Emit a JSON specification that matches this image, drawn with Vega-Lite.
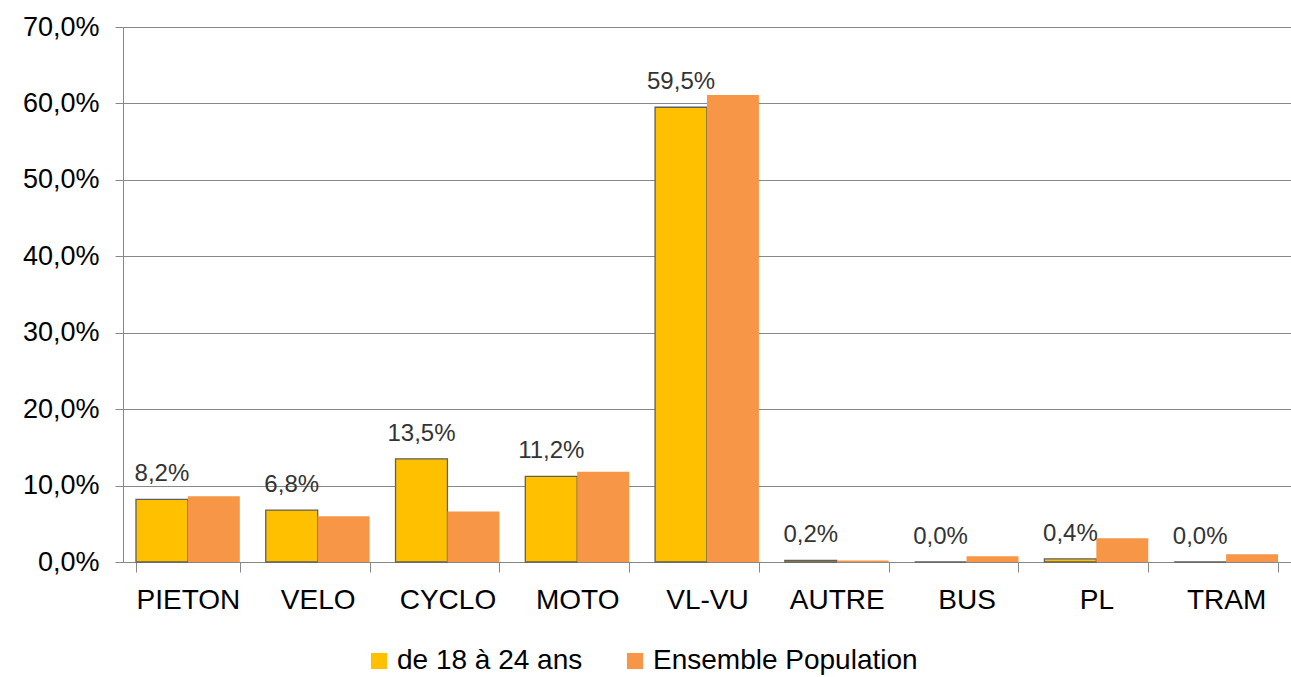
{
  "$schema": "https://vega.github.io/schema/vega-lite/v6.json",
  "width": 1168,
  "height": 535,
  "autosize": {"type": "none"},
  "padding": {"left": 123, "top": 27, "right": 0, "bottom": 115},
  "config": {
    "locale": {"number": {"decimal": ",", "thousands": " ", "grouping": [3], "currency": ["", " €"]}},
    "view": {"stroke": null},
    "font": "Liberation Sans"
  },
  "data": {
    "values": [
      {"cat": "PIETON", "series": "de 18 à 24 ans", "value": 0.082},
      {"cat": "VELO", "series": "de 18 à 24 ans", "value": 0.068},
      {"cat": "CYCLO", "series": "de 18 à 24 ans", "value": 0.135},
      {"cat": "MOTO", "series": "de 18 à 24 ans", "value": 0.112},
      {"cat": "VL-VU", "series": "de 18 à 24 ans", "value": 0.595},
      {"cat": "AUTRE", "series": "de 18 à 24 ans", "value": 0.002},
      {"cat": "BUS", "series": "de 18 à 24 ans", "value": 0.0},
      {"cat": "PL", "series": "de 18 à 24 ans", "value": 0.004},
      {"cat": "TRAM", "series": "de 18 à 24 ans", "value": 0.0},
      {"cat": "PIETON", "series": "Ensemble Population", "value": 0.086},
      {"cat": "VELO", "series": "Ensemble Population", "value": 0.060},
      {"cat": "CYCLO", "series": "Ensemble Population", "value": 0.066},
      {"cat": "MOTO", "series": "Ensemble Population", "value": 0.118},
      {"cat": "VL-VU", "series": "Ensemble Population", "value": 0.611},
      {"cat": "AUTRE", "series": "Ensemble Population", "value": 0.002},
      {"cat": "BUS", "series": "Ensemble Population", "value": 0.0075},
      {"cat": "PL", "series": "Ensemble Population", "value": 0.031},
      {"cat": "TRAM", "series": "Ensemble Population", "value": 0.010}
    ]
  },
  "encoding": {
    "x": {
      "field": "cat",
      "type": "nominal",
      "sort": ["PIETON", "VELO", "CYCLO", "MOTO", "VL-VU", "AUTRE", "BUS", "PL", "TRAM"],
      "scale": {"paddingInner": 0.2, "paddingOuter": 0.1},
      "axis": {
        "title": null,
        "labelAngle": 0,
        "labelFontSize": 28,
        "labelColor": "#000000",
        "labelPadding": 14,
        "tickBand": "extent",
        "tickSize": 10,
        "tickColor": "#888888",
        "domainColor": "#888888",
        "grid": false
      }
    },
    "xOffset": {
      "field": "series",
      "sort": ["de 18 à 24 ans", "Ensemble Population"],
      "scale": {"paddingInner": 0, "paddingOuter": 0}
    },
    "y": {
      "field": "value",
      "type": "quantitative",
      "scale": {"domain": [0, 0.7]},
      "axis": {
        "title": null,
        "values": [0, 0.1, 0.2, 0.3, 0.4, 0.5, 0.6, 0.7],
        "format": ".1%",
        "labelFontSize": 27,
        "labelColor": "#000000",
        "labelPadding": 16,
        "tickSize": 8,
        "tickColor": "#888888",
        "domainColor": "#888888",
        "gridColor": "#888888",
        "gridOpacity": 1
      }
    }
  },
  "layer": [
    {
      "mark": {"type": "bar", "strokeWidth": 1.3},
      "encoding": {
        "color": {
          "field": "series",
          "type": "nominal",
          "sort": ["de 18 à 24 ans", "Ensemble Population"],
          "scale": {"domain": ["de 18 à 24 ans", "Ensemble Population"], "range": ["#FFC000", "#F79646"]},
          "legend": {
            "title": null,
            "orient": "none",
            "legendX": 242,
            "legendY": 620,
            "direction": "horizontal",
            "symbolType": "square",
            "symbolSize": 260,
            "labelFontSize": 28,
            "labelLimit": 0,
            "labelColor": "#000000",
            "labelOffset": 4,
            "columnPadding": 38
          }
        },
        "stroke": {
          "condition": {"test": "datum.series === 'de 18 à 24 ans'", "value": "#5f5f5f"},
          "value": null
        }
      }
    },
    {
      "transform": [{"filter": "datum.series === 'de 18 à 24 ans'"}],
      "mark": {"type": "text", "dy": -18, "baseline": "alphabetic", "fontSize": 24, "color": "#333333"},
      "encoding": {
        "text": {"field": "value", "type": "quantitative", "format": ".1%"}
      }
    }
  ]
}
